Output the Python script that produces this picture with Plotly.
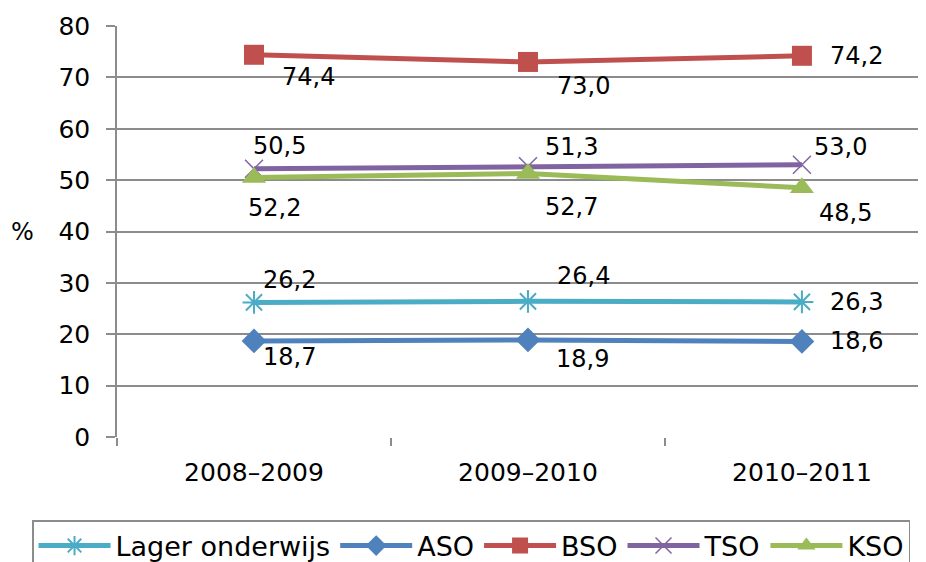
import plotly.graph_objects as go

categories = ["2008–2009", "2009–2010", "2010–2011"]
lager = [26.2, 26.4, 26.3]
aso = [18.7, 18.9, 18.6]
bso = [74.4, 73.0, 74.2]
tso = [52.2, 52.7, 53.0]
kso = [50.5, 51.3, 48.5]
y_ticks = [0, 10, 20, 30, 40, 50, 60, 70, 80]

FONT = "DejaVu Sans"

series = [
    ("Lager onderwijs", lager, "#4BACC6", dict(symbol="asterisk-open", size=19, line=dict(width=2, color="#4BACC6"))),
    ("ASO", aso, "#4F81BD", dict(symbol="diamond", size=19, color="#4F81BD")),
    ("BSO", bso, "#C0504D", dict(symbol="square", size=20, color="#C0504D")),
    ("TSO", tso, "#8064A2", dict(symbol="x-thin-open", size=18, line=dict(width=1.5, color="#8064A2"))),
    ("KSO", kso, "#9BBB59", dict(symbol="triangle-up", size=21, color="#9BBB59")),
]

fig = go.Figure()
for name, vals, color, marker in series:
    fig.add_trace(go.Scatter(
        x=categories, y=vals, name=name, mode="lines+markers",
        line=dict(color=color, width=5), marker=marker,
    ))

# label offsets (px) per series per category
label_shifts = {
    "Lager onderwijs": [(36, 22), (56, 25), (55, 0)],
    "ASO": [(36, -16), (55, -19), (55, 0)],
    "BSO": [(55, -22), (56, -24), (55, 0)],
    "TSO": [(21, -39), (44, -41), (39, 18)],
    "KSO": [(26, 32), (44, 26), (44, -25)],
}

annotations = []
for name, vals, color, marker in series:
    for i, v in enumerate(vals):
        dx, dy = label_shifts[name][i]
        annotations.append(dict(
            x=categories[i], y=v, xref="x", yref="y",
            text=f"{v:.1f}".replace(".", ","), showarrow=False,
            xshift=dx, yshift=dy, font=dict(family=FONT, size=24, color="#000"),
        ))

annotations.append(dict(
    x=-0.116, y=0.5, xref="paper", yref="paper", text="%", showarrow=False,
    xanchor="center", yanchor="middle",
    font=dict(family=FONT, size=24, color="#000"),
))

fig.update_layout(
    width=926, height=562,
    margin=dict(l=109, r=0, t=18, b=133, autoexpand=False),
    paper_bgcolor="white", plot_bgcolor="white",
    font=dict(family=FONT, size=24, color="#000"),
    annotations=annotations,
    showlegend=True,
    legend=dict(
        orientation="h", x=-0.104, y=-0.202, xanchor="left", yanchor="top",
        bordercolor="#8c8c8c", borderwidth=1.5, font=dict(family=FONT, size=27),
        itemwidth=72, tracegroupgap=0,
    ),
    xaxis=dict(
        type="category", range=[-0.5, 2.482], showgrid=False,
        showline=False, ticks="outside", tickson="boundaries",
        ticklen=8, tickcolor="#8c8c8c", tickwidth=1.5,
        ticklabelstandoff=18, tickfont=dict(family=FONT, size=25),
    ),
    yaxis=dict(
        range=[0, 80], tickvals=y_ticks, showgrid=True, gridcolor="#8c8c8c",
        gridwidth=1.5, showline=True, linecolor="#8c8c8c", linewidth=1.5,
        ticks="outside", ticklen=9, tickcolor="#8c8c8c", tickwidth=1.5,
        ticklabelstandoff=11, zeroline=False, tickfont=dict(family=FONT, size=25),
    ),
)

fig.write_html("out.html")
